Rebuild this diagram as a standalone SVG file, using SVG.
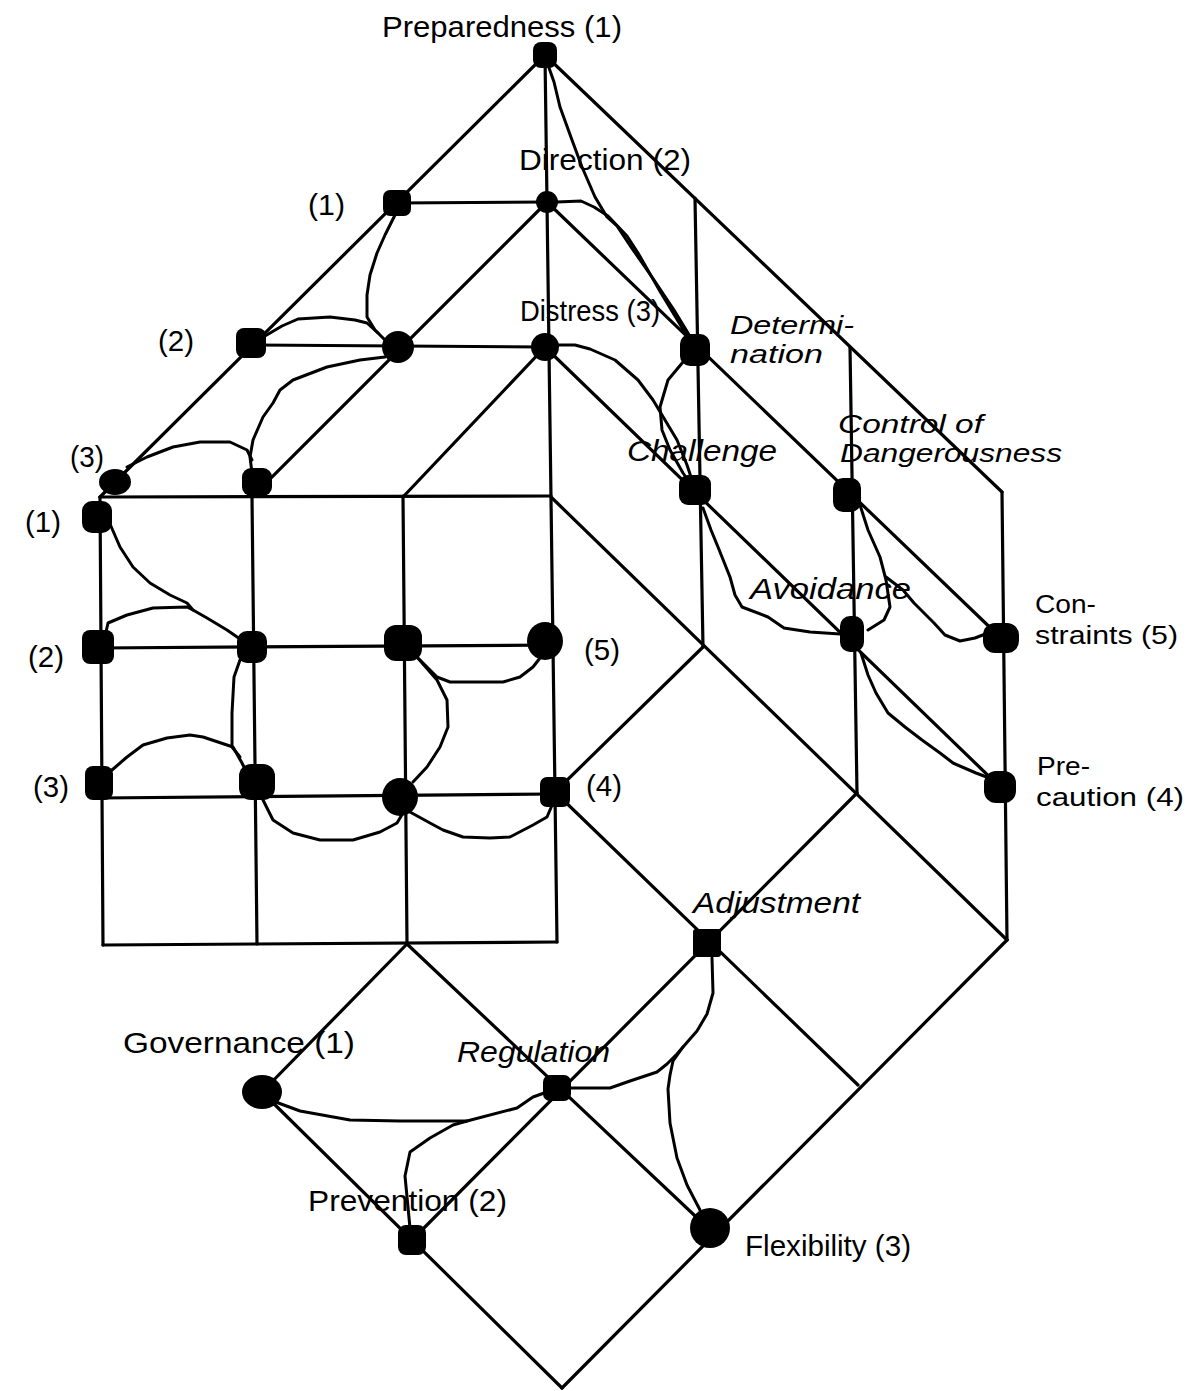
<svg xmlns="http://www.w3.org/2000/svg" width="1197" height="1391" viewBox="0 0 1197 1391">
<style>
.bg{fill:#fff}
.ln{fill:none;stroke:#000;stroke-width:3.2;stroke-linecap:round;stroke-linejoin:round}
.cv{fill:none;stroke:#000;stroke-width:3;stroke-linecap:round;stroke-linejoin:round}
.n{fill:#000}
.t{font-family:"Liberation Sans",Arial,sans-serif;font-size:30px;fill:#000}
.s{font-size:26px}
.i{font-style:italic}
</style>
<rect class="bg" x="0" y="0" width="1197" height="1391"/>
<g id="lattice" class="ln">
<line x1="545" y1="55" x2="100" y2="497"/>
<line x1="397" y1="203" x2="547" y2="202"/>
<line x1="251" y1="345" x2="545" y2="347"/>
<line x1="547" y1="202" x2="252" y2="497"/>
<line x1="545" y1="347" x2="403" y2="497"/>
<line x1="545" y1="55" x2="557" y2="942"/>
<line x1="100" y1="497" x2="551" y2="496"/>
<line x1="98" y1="648" x2="553" y2="645"/>
<line x1="99" y1="798" x2="555" y2="794"/>
<line x1="103" y1="945" x2="557" y2="942"/>
<line x1="100" y1="497" x2="103" y2="945"/>
<line x1="252" y1="497" x2="257" y2="944"/>
<line x1="403" y1="496" x2="407" y2="944"/>
<line x1="545" y1="55" x2="1002" y2="492"/>
<line x1="547" y1="202" x2="1001" y2="638"/>
<line x1="545" y1="347" x2="1000" y2="787"/>
<line x1="551" y1="497" x2="1007" y2="940"/>
<line x1="695" y1="198" x2="703" y2="647"/>
<line x1="850" y1="347" x2="857" y2="793"/>
<line x1="1002" y1="492" x2="1007" y2="940"/>
<line x1="703" y1="647" x2="555" y2="792"/>
<line x1="555" y1="792" x2="858" y2="1085"/>
<line x1="857" y1="793" x2="412" y2="1240"/>
<line x1="1007" y1="940" x2="562" y2="1388"/>
<line x1="407" y1="944" x2="262" y2="1092"/>
<line x1="262" y1="1092" x2="562" y2="1388"/>
<line x1="407" y1="944" x2="710" y2="1230"/>
</g>
<g id="connectors" class="cv">
<polyline points="548,65 554,82 560,107 572,140 582,167 595,197 607,217 617,226 631,247 654,280 674,310 688,333 693,343"/>
<polyline points="557,202 581,201 594,207 608,216 627,236 638,253 661,293 681,326 689,340"/>
<polyline points="557,345 575,345 590,349 615,360 638,380 653,400 665,420 677,440 687,465 692,480"/>
<polyline points="683,362 668,380 660,407 662,430 670,450 683,473 690,483"/>
<polyline points="395,215 385,235 377,253 370,275 367,295 367,317 375,330 388,343"/>
<polyline points="265,336 282,326 298,319 330,317 355,320 367,323 378,333"/>
<polyline points="385,357 360,360 327,367 293,380 280,390 273,403 263,417 253,440 250,457 252,473"/>
<polyline points="127,467 147,457 173,447 200,442 230,442 247,450 252,460"/>
<polyline points="110,524 120,547 133,567 150,583 170,595 187,603 193,610 207,618 227,630 240,639"/>
<polyline points="106,632 108,623 127,615 153,608 187,607 193,610"/>
<polyline points="112,770 127,757 143,745 167,738 190,735 203,737 233,747 242,763 247,773"/>
<polyline points="240,660 234,677 232,713 232,747 240,757"/>
<polyline points="416,656 437,680 447,700 448,727 440,747 427,767 413,782"/>
<polyline points="416,656 437,677 450,682 503,682 520,677 533,667 540,658"/>
<polyline points="263,800 273,820 293,833 320,840 353,840 380,832 397,823 403,813"/>
<polyline points="410,812 430,823 443,830 463,837 490,838 510,837 533,825 547,817 553,803"/>
<polyline points="703,508 711,530 718,547 730,577 735,595 742,607 768,617 784,628 810,632 840,634"/>
<polyline points="860,505 868,530 880,557 886,580 890,607 884,620 868,630"/>
<polyline points="886,577 903,590 914,603 934,623 945,635 960,641 975,638 988,633"/>
<polyline points="861,653 868,675 876,693 888,713 905,727 922,740 940,753 953,763 976,773 992,779"/>
<polyline points="570,1088 610,1088 630,1081 657,1072 667,1064 677,1054 683,1047 697,1031 707,1014 713,993 712,958"/>
<polyline points="683,1047 673,1061 670,1075 668,1089 670,1123 677,1158 687,1185 700,1210"/>
<polyline points="273,1101 300,1111 350,1120 400,1121 467,1121 517,1108 533,1097 547,1092"/>
<polyline points="410,1228 405,1176 410,1152 430,1138 453,1125 467,1121"/>
</g>
<g id="n-preparedness"><rect class="n" x="533" y="42" width="24" height="26" rx="8"/><text class="t" x="382" y="37" textLength="240" lengthAdjust="spacingAndGlyphs">Preparedness (1)</text></g>
<g id="n-direction"><circle class="n" cx="547" cy="202" r="11"/><text class="t" x="519" y="170" textLength="172" lengthAdjust="spacingAndGlyphs">Direction (2)</text></g>
<g id="n-top1"><rect class="n" x="383" y="190" width="28" height="26" rx="7"/><text class="t" x="308" y="215" textLength="37" lengthAdjust="spacingAndGlyphs">(1)</text></g>
<g id="n-top2"><rect class="n" x="236" y="328" width="30" height="30" rx="8"/><text class="t" x="158" y="351" textLength="36" lengthAdjust="spacingAndGlyphs">(2)</text></g>
<g id="n-top3"><ellipse class="n" cx="115" cy="482" rx="16" ry="13"/><text class="t" x="70" y="467" textLength="34" lengthAdjust="spacingAndGlyphs">(3)</text></g>
<g id="n-topmid"><circle class="n" cx="398" cy="347" r="16"/></g>
<g id="n-distress"><circle class="n" cx="545" cy="347" r="14"/><text class="t" x="520" y="321" textLength="140" lengthAdjust="spacingAndGlyphs">Distress (3)</text></g>
<g id="n-top32"><rect class="n" x="242" y="468" width="30" height="28" rx="9"/></g>
<g id="n-determination"><rect class="n" x="680" y="334" width="30" height="32" rx="10"/><text class="t s i" x="730" y="334" textLength="124" lengthAdjust="spacingAndGlyphs">Determi-</text><text class="t s i" x="730" y="363" textLength="93" lengthAdjust="spacingAndGlyphs">nation</text></g>
<g id="n-challenge"><rect class="n" x="679" y="475" width="32" height="30" rx="9"/><text class="t i" x="627" y="461" textLength="150" lengthAdjust="spacingAndGlyphs">Challenge</text></g>
<g id="n-control"><rect class="n" x="833" y="478" width="28" height="34" rx="10"/><text class="t s i" x="838" y="433" textLength="145" lengthAdjust="spacingAndGlyphs">Control of</text><text class="t s i" x="840" y="462" textLength="222" lengthAdjust="spacingAndGlyphs">Dangerousness</text></g>
<g id="n-avoidance"><rect class="n" x="840" y="616" width="24" height="36" rx="10"/><text class="t i" x="750" y="599" textLength="161" lengthAdjust="spacingAndGlyphs">Avoidance</text></g>
<g id="n-constraints"><rect class="n" x="983" y="623" width="36" height="30" rx="12"/><text class="t s" x="1035" y="613" textLength="61" lengthAdjust="spacingAndGlyphs">Con-</text><text class="t s" x="1035" y="644" textLength="143" lengthAdjust="spacingAndGlyphs">straints (5)</text></g>
<g id="n-precaution"><rect class="n" x="984" y="771" width="32" height="32" rx="12"/><text class="t s" x="1037" y="775" textLength="53" lengthAdjust="spacingAndGlyphs">Pre-</text><text class="t s" x="1036" y="806" textLength="148" lengthAdjust="spacingAndGlyphs">caution (4)</text></g>
<g id="n-g11"><rect class="n" x="82" y="501" width="30" height="32" rx="10"/><text class="t" x="25" y="532" textLength="36" lengthAdjust="spacingAndGlyphs">(1)</text></g>
<g id="n-g21"><rect class="n" x="82" y="630" width="32" height="34" rx="8"/><text class="t" x="28" y="667" textLength="36" lengthAdjust="spacingAndGlyphs">(2)</text></g>
<g id="n-g22"><rect class="n" x="237" y="631" width="30" height="32" rx="10"/></g>
<g id="n-g23"><rect class="n" x="384" y="625" width="38" height="36" rx="12"/></g>
<g id="n-g25"><ellipse class="n" cx="545" cy="641" rx="18" ry="19"/><text class="t" x="584" y="660" textLength="36" lengthAdjust="spacingAndGlyphs">(5)</text></g>
<g id="n-g31"><rect class="n" x="85" y="766" width="28" height="34" rx="8"/><text class="t" x="33" y="797" textLength="36" lengthAdjust="spacingAndGlyphs">(3)</text></g>
<g id="n-g32"><rect class="n" x="239" y="764" width="36" height="36" rx="12"/></g>
<g id="n-g33"><ellipse class="n" cx="400" cy="797" rx="18" ry="19"/></g>
<g id="n-g4"><rect class="n" x="540" y="777" width="30" height="30" rx="7"/><text class="t" x="586" y="796" textLength="36" lengthAdjust="spacingAndGlyphs">(4)</text></g>
<g id="n-adjustment"><rect class="n" x="693" y="929" width="28" height="28" rx="3"/><text class="t i" x="693" y="913" textLength="167" lengthAdjust="spacingAndGlyphs">Adjustment</text></g>
<g id="n-regulation"><rect class="n" x="543" y="1075" width="28" height="26" rx="7"/><text class="t i" x="457" y="1062" textLength="153" lengthAdjust="spacingAndGlyphs">Regulation</text></g>
<g id="n-governance"><ellipse class="n" cx="262" cy="1092" rx="20" ry="17"/><text class="t" x="123" y="1053" textLength="232" lengthAdjust="spacingAndGlyphs">Governance (1)</text></g>
<g id="n-prevention"><rect class="n" x="398" y="1225" width="28" height="30" rx="8"/><text class="t" x="308" y="1211" textLength="199" lengthAdjust="spacingAndGlyphs">Prevention (2)</text></g>
<g id="n-flexibility"><circle class="n" cx="710" cy="1228" r="20"/><text class="t" x="745" y="1256" textLength="166" lengthAdjust="spacingAndGlyphs">Flexibility (3)</text></g>
</svg>
